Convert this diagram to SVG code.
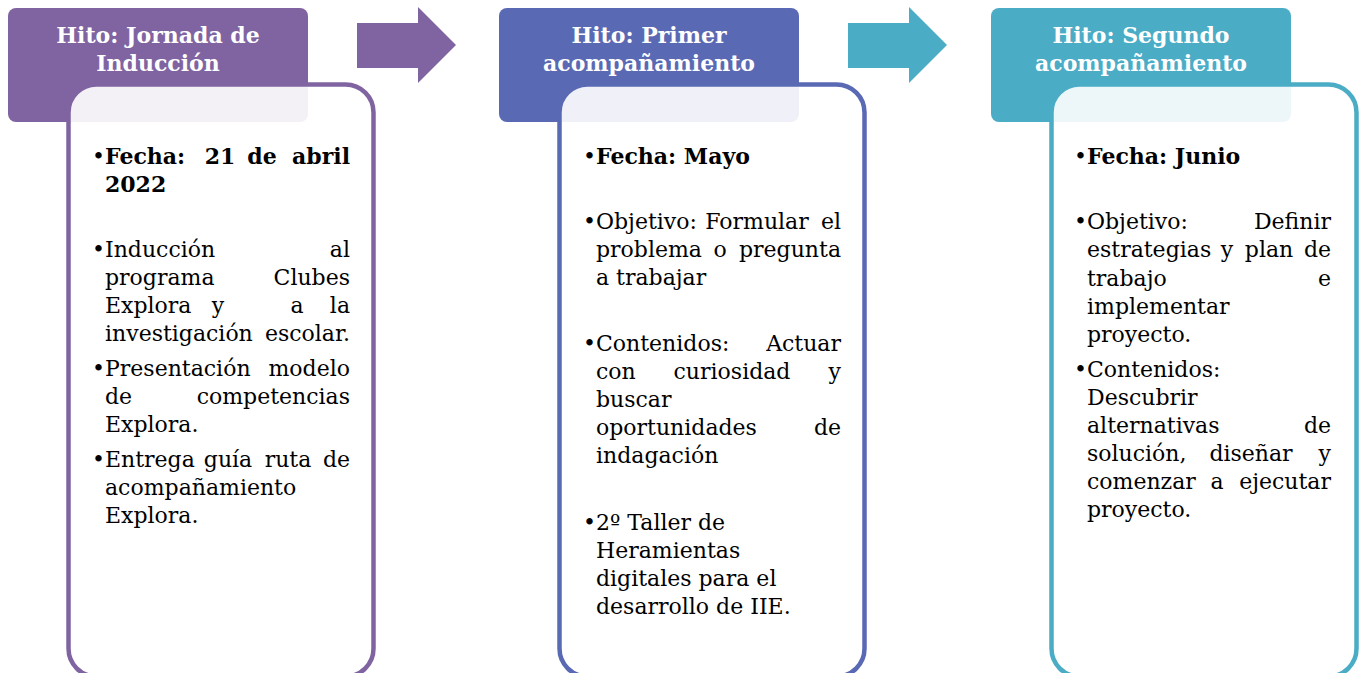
<svg xmlns="http://www.w3.org/2000/svg" width="1359" height="673" viewBox="0 0 1359 673">
<style>
.hdr{stroke:none}
.card{fill:#fff;fill-opacity:0.9;stroke-width:4.5}
.ht{font-family:"DejaVu Serif",serif;font-weight:bold;font-size:22px;fill:#fff;text-anchor:middle}
.t{font-family:"DejaVu Serif",serif;font-size:22px;fill:#000}
.b{font-weight:bold}
.m{text-anchor:middle}
.e{text-anchor:end}
.p1{fill:#8064a2}
.p2{fill:#5a69b3}
.p3{fill:#4bacc6}
</style>
<rect width="1359" height="673" fill="#fff"/>
<g id="connectors">
<path class="p1" d="M357,23 H418 V7 L456,45 L418,83 V68 H357 Z"/>
<path class="p3" d="M848,23 H909 V7 L947,45 L909,83 V68 H848 Z"/>
</g>
<g id="hito1">
<rect class="hdr p1" x="8" y="8" width="300" height="114" rx="8"/>
<text class="ht" x="158" y="43">Hito: Jornada de</text>
<text class="ht" x="158" y="71">Inducción</text>
<rect class="card" x="68.5" y="84.5" width="305" height="592" rx="28" stroke="#8064a2"/>
<g class="t">
<text x="92" y="164">•</text><text class="b" x="105" y="164">Fecha:</text><text class="b m" x="220" y="164">21</text><text class="b m" x="262" y="164">de</text><text class="b e" x="350" y="164">abril</text>
<text class="b" x="105" y="192">2022</text>
<text x="92" y="257">•</text><text x="105" y="257">Inducción</text><text class="e" x="350" y="257">al</text>
<text x="105" y="285">programa</text><text class="e" x="350" y="285">Clubes</text>
<text x="105" y="313">Explora</text><text class="m" x="218" y="313">y</text><text class="m" x="297" y="313">a</text><text class="e" x="350" y="313">la</text>
<text x="105" y="341">investigación</text><text class="e" x="350" y="341">escolar.</text>
<text x="92" y="376">•</text><text x="105" y="376">Presentación</text><text class="e" x="350" y="376">modelo</text>
<text x="105" y="404">de</text><text class="e" x="350" y="404">competencias</text>
<text x="105" y="432">Explora.</text>
<text x="92" y="467">•</text><text x="105" y="467">Entrega</text><text class="m" x="228" y="467">guía</text><text class="m" x="288" y="467">ruta</text><text class="e" x="350" y="467">de</text>
<text x="105" y="495">acompañamiento</text>
<text x="105" y="523">Explora.</text>
</g>
</g>
<g id="hito2">
<rect class="hdr p2" x="499" y="8" width="300" height="114" rx="8"/>
<text class="ht" x="649" y="43">Hito: Primer</text>
<text class="ht" x="649" y="71">acompañamiento</text>
<rect class="card" x="559.5" y="84.5" width="305" height="592" rx="28" stroke="#5a69b3"/>
<g class="t">
<text x="583" y="164">•</text><text class="b" x="596" y="164">Fecha: Mayo</text>
<text x="583" y="229">•</text><text x="596" y="229">Objetivo:</text><text class="m" x="757" y="229">Formular</text><text class="e" x="841" y="229">el</text>
<text x="596" y="257">problema</text><text class="m" x="720" y="257">o</text><text class="e" x="841" y="257">pregunta</text>
<text x="596" y="285">a trabajar</text>
<text x="583" y="351">•</text><text x="596" y="351">Contenidos:</text><text class="e" x="841" y="351">Actuar</text>
<text x="596" y="379">con</text><text class="m" x="732" y="379">curiosidad</text><text class="e" x="841" y="379">y</text>
<text x="596" y="407">buscar</text>
<text x="596" y="435">oportunidades</text><text class="e" x="841" y="435">de</text>
<text x="596" y="463">indagación</text>
<text x="583" y="530">•</text><text x="596" y="530">2º Taller de</text>
<text x="596" y="558">Heramientas</text>
<text x="596" y="586">digitales para el</text>
<text x="596" y="614">desarrollo de IIE.</text>
</g>
</g>
<g id="hito3">
<rect class="hdr p3" x="991" y="8" width="300" height="114" rx="8"/>
<text class="ht" x="1141" y="43">Hito: Segundo</text>
<text class="ht" x="1141" y="71">acompañamiento</text>
<rect class="card" x="1051.5" y="84.5" width="305" height="592" rx="28" stroke="#4bacc6"/>
<g class="t">
<text x="1074" y="164">•</text><text class="b" x="1087" y="164">Fecha: Junio</text>
<text x="1074" y="229">•</text><text x="1087" y="229">Objetivo:</text><text class="e" x="1331" y="229">Definir</text>
<text x="1087" y="257">estrategias</text><text class="m" x="1227" y="257">y</text><text class="m" x="1269" y="257">plan</text><text class="e" x="1331" y="257">de</text>
<text x="1087" y="286">trabajo</text><text class="e" x="1331" y="286">e</text>
<text x="1087" y="314">implementar</text>
<text x="1087" y="342">proyecto.</text>
<text x="1074" y="377">•</text><text x="1087" y="377">Contenidos:</text>
<text x="1087" y="405">Descubrir</text>
<text x="1087" y="433">alternativas</text><text class="e" x="1331" y="433">de</text>
<text x="1087" y="461">solución,</text><text class="m" x="1251" y="461">diseñar</text><text class="e" x="1331" y="461">y</text>
<text x="1087" y="489">comenzar</text><text class="m" x="1217" y="489">a</text><text class="e" x="1331" y="489">ejecutar</text>
<text x="1087" y="517">proyecto.</text>
</g>
</g>
</svg>
